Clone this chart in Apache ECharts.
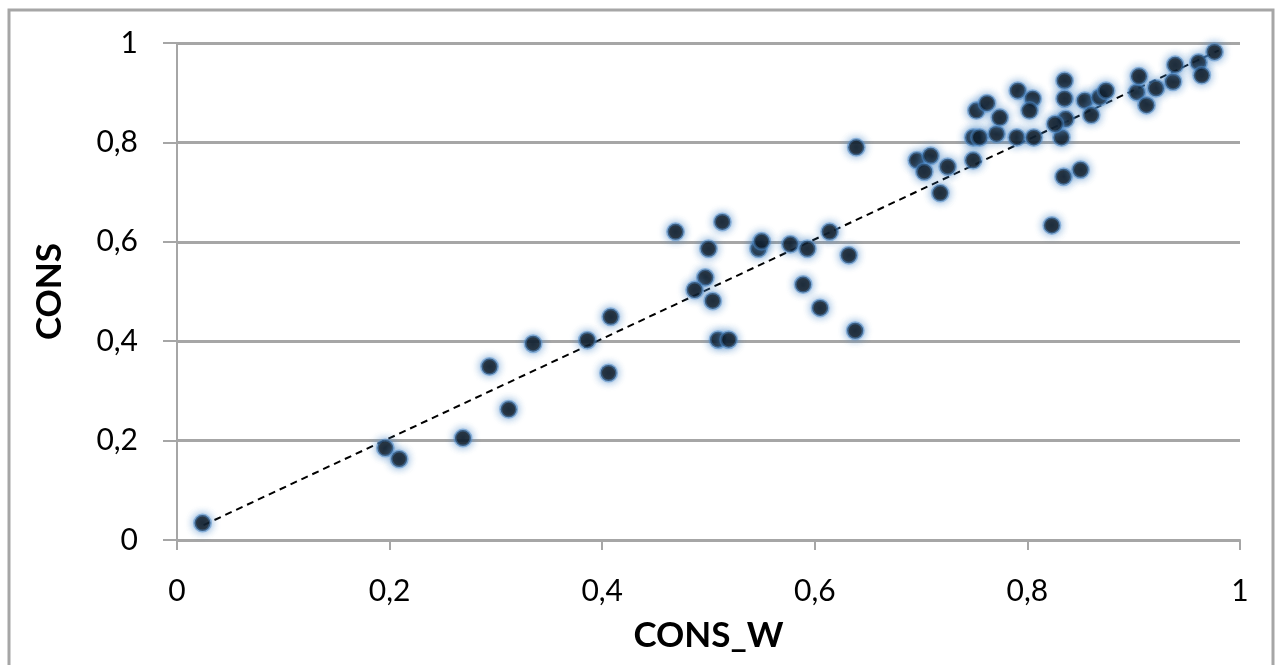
<!DOCTYPE html>
<html>
<head>
<meta charset="utf-8">
<script src="https://cdn.jsdelivr.net/npm/echarts@6/dist/echarts.min.js"></script>
<style>
html, body { margin: 0; padding: 0; background: #fff; }
#chart { width: 1276px; height: 665px; }
</style>
</head>
<body>
<div id="chart"></div>
<script>
// CONS_W (x) values
var consW = [
  0.024, 0.196, 0.209, 0.269, 0.294, 0.312, 0.335, 0.386, 0.406, 0.408,
  0.469, 0.513, 0.500, 0.497, 0.487, 0.504, 0.509, 0.519, 0.547, 0.550,
  0.577, 0.593, 0.589, 0.605, 0.614, 0.632, 0.638, 0.639,
  0.696, 0.709, 0.703, 0.725, 0.718, 0.749, 0.749, 0.755, 0.752, 0.762,
  0.771, 0.774, 0.790, 0.791, 0.805, 0.802, 0.806, 0.823, 0.832, 0.834,
  0.850, 0.835, 0.835, 0.836, 0.826, 0.854, 0.860, 0.868, 0.874, 0.903,
  0.905, 0.912, 0.921, 0.937, 0.939, 0.961, 0.964, 0.976
];
// CONS (y) values
var cons = [
  0.034, 0.185, 0.163, 0.205, 0.349, 0.263, 0.395, 0.402, 0.336, 0.449,
  0.620, 0.640, 0.586, 0.528, 0.503, 0.481, 0.403, 0.403, 0.586, 0.601,
  0.595, 0.586, 0.514, 0.467, 0.620, 0.573, 0.421, 0.790,
  0.764, 0.773, 0.741, 0.751, 0.698, 0.764, 0.810, 0.810, 0.864, 0.879,
  0.817, 0.850, 0.810, 0.904, 0.888, 0.864, 0.810, 0.633, 0.810, 0.731,
  0.745, 0.924, 0.888, 0.847, 0.837, 0.884, 0.855, 0.891, 0.904, 0.901,
  0.933, 0.875, 0.909, 0.922, 0.956, 0.961, 0.935, 0.982
];
// linear trend line end points
var trendX = [0.025, 0.98];
var trendY = [0.03, 0.985];

var points = consW.map(function (x, i) { return [x, cons[i]]; });
var trend = trendX.map(function (x, i) { return [x, trendY[i]]; });

function comma(v) { return String(v).replace('.', ','); }

var gray = '#a6a6a6';
var font = 'Lato, "Open Sans", sans-serif';

var chart = echarts.init(document.getElementById('chart'));
chart.setOption({
  animation: false,
  graphic: [{
    type: 'rect',
    shape: { x: 9, y: 10, width: 1264, height: 700 },
    style: { fill: 'none', stroke: gray, lineWidth: 3 },
    silent: true
  }],
  grid: { left: 177, right: 36, top: 43, bottom: 125 },
  xAxis: {
    type: 'value', min: 0, max: 1, interval: 0.2,
    name: 'CONS_W', nameLocation: 'middle', nameGap: 78,
    nameTextStyle: { fontFamily: font, fontSize: 35, fontWeight: 'bold', color: '#000' },
    axisLine: { lineStyle: { color: gray, width: 2 } },
    axisTick: { show: true, length: 10, lineStyle: { color: gray, width: 2 } },
    axisLabel: { margin: 36, fontFamily: font, fontSize: 30, color: '#000', formatter: comma },
    splitLine: { show: false }
  },
  yAxis: {
    type: 'value', min: 0, max: 1, interval: 0.2,
    name: 'CONS', nameLocation: 'middle', nameGap: 110,
    nameTextStyle: { fontFamily: font, fontSize: 35, fontWeight: 'bold', color: '#000' },
    axisLine: { show: true, lineStyle: { color: gray, width: 2 } },
    axisTick: { show: true, length: 14, lineStyle: { color: gray, width: 2 } },
    axisLabel: { margin: 39, fontFamily: font, fontSize: 30, color: '#000', formatter: comma },
    splitLine: { show: true, lineStyle: { color: gray, width: 3 } }
  },
  series: [{
    type: 'line',
    data: trend,
    symbol: 'none',
    lineStyle: { color: '#000', width: 2, type: [7, 5] },
    z: 3
  }, {
    type: 'scatter',
    data: points,
    symbol: 'circle',
    symbolSize: 16,
    itemStyle: {
      color: '#000',
      borderColor: 'rgba(74,134,197,0.6)',
      borderWidth: 3,
      shadowBlur: 9,
      shadowColor: 'rgba(74,134,197,1)'
    },
    z: 4
  }]
});
</script>
</body>
</html>
